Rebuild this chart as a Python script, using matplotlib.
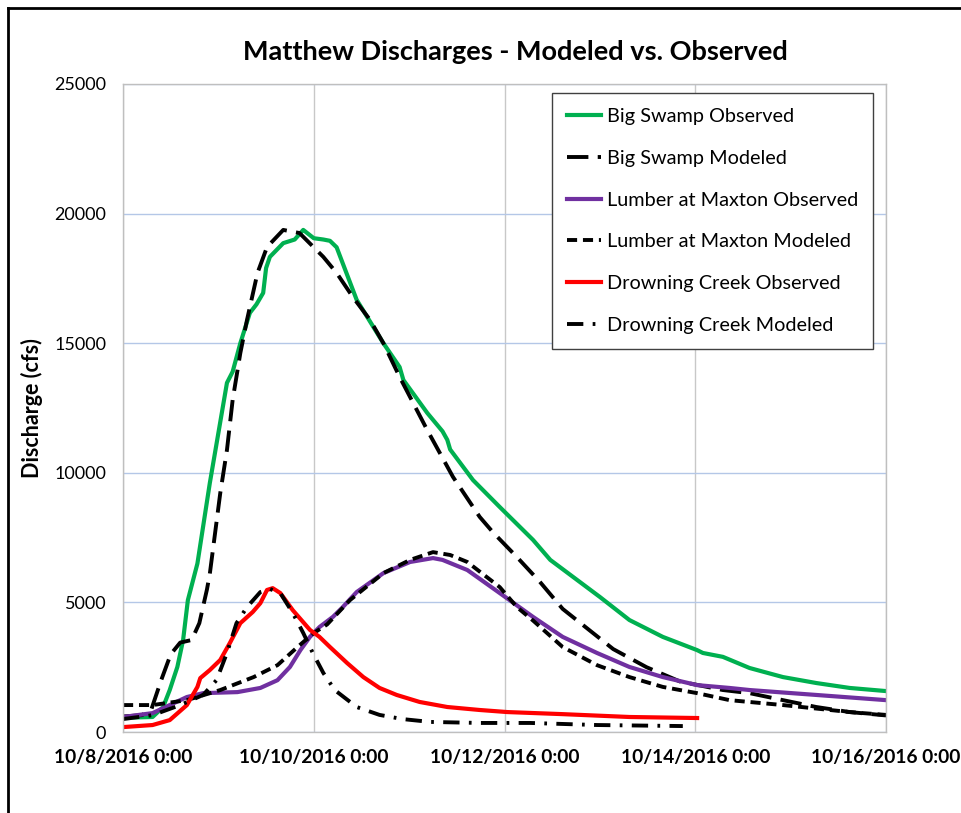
import numpy as np
import matplotlib
matplotlib.use('Agg')
import matplotlib.pyplot as plt
import matplotlib.dates as mdates
from matplotlib.lines import Line2D
from matplotlib.ticker import FuncFormatter

plt.rcParams['font.family'] = ['Lato', 'DejaVu Sans']

# days since 10/8/2016 0:00, discharge in cfs
bs_obs_day = [0.00, 0.31, 0.42, 0.49, 0.57, 0.63, 0.68, 0.78, 0.91, 1.09, 1.15, 1.23,
              1.33, 1.40, 1.47, 1.50, 1.54, 1.68, 1.80, 1.89, 2.00, 2.10, 2.17, 2.24,
              2.45, 2.73, 2.90, 2.94, 3.19, 3.35, 3.40, 3.43, 3.67, 3.95, 4.30, 4.48,
              5.00, 5.31, 5.66, 6.02, 6.08, 6.29, 6.57, 6.92, 7.27, 7.62, 8.00]
bs_obs_val = [550, 580, 960, 1620, 2510, 3550, 5090, 6500, 9600, 13470, 13900, 15000,
              16170, 16500, 16940, 17900, 18330, 18860, 19000, 19370, 19050, 19000, 18950, 18700,
              16670, 15000, 14080, 13580, 12310, 11600, 11270, 10900, 9720, 8680, 7410, 6640,
              5210, 4320, 3670, 3160, 3050, 2900, 2470, 2120, 1890, 1700, 1580]

bs_mod_day = [0.00, 0.20, 0.30, 0.40, 0.50, 0.60, 0.72, 0.80, 0.88, 0.91, 1.02, 1.09,
              1.15, 1.23, 1.30, 1.41, 1.51, 1.68, 1.85, 2.10, 2.24, 2.41, 2.59, 2.73,
              2.90, 3.19, 3.46, 3.74, 3.88, 4.13, 4.37, 4.61, 4.90, 5.14, 5.49, 5.84,
              6.29, 6.57, 6.92, 7.27, 7.62, 8.00]
bs_mod_val = [600, 650, 900, 2000, 3000, 3450, 3550, 4200, 5500, 6100, 9220, 10880,
              12810, 14620, 15900, 17710, 18710, 19370, 19250, 18330, 17710, 16780, 15900, 15000,
              13700, 11650, 9840, 8300, 7700, 6750, 5800, 4750, 3900, 3200, 2500, 1950,
              1620, 1500, 1230, 965, 770, 640]

lm_obs_day = [0.00, 0.31, 0.49, 0.67, 0.84, 1.20, 1.44, 1.62, 1.75, 1.86, 1.96, 2.06,
              2.20, 2.30, 2.45, 2.73, 3.01, 3.25, 3.35, 3.61, 3.95, 4.30, 4.61, 4.97,
              5.31, 5.66, 6.02, 6.36, 6.57, 7.27, 8.00]
lm_obs_val = [580, 730, 1040, 1350, 1500, 1540, 1700, 2000, 2510, 3160, 3670, 4050,
              4440, 4800, 5400, 6130, 6560, 6710, 6640, 6250, 5360, 4440, 3670, 3050,
              2510, 2120, 1810, 1700, 1620, 1430, 1230]

lm_mod_day = [0.00, 0.31, 0.67, 1.02, 1.37, 1.62, 1.83, 2.00, 2.14, 2.38, 2.73, 3.01,
              3.25, 3.43, 3.61, 3.95, 4.13, 4.30, 4.61, 4.97, 5.31, 5.66, 6.02, 6.36,
              6.92, 7.62, 8.00]
lm_mod_val = [1040, 1040, 1230, 1620, 2120, 2580, 3280, 3820, 4150, 5090, 6130, 6640,
              6940, 6830, 6560, 5590, 4820, 4300, 3280, 2580, 2120, 1740, 1500, 1230,
              1040, 770, 660]

dc_obs_day = [0.00, 0.31, 0.49, 0.67, 0.78, 0.81, 0.91, 1.02, 1.12, 1.23, 1.36, 1.44,
              1.51, 1.57, 1.65, 1.78, 1.96, 2.06, 2.17, 2.35, 2.52, 2.69, 2.87, 3.11,
              3.40, 3.74, 4.03, 4.61, 5.31, 6.02]
dc_obs_val = [190, 270, 460, 1040, 1740, 2080, 2390, 2780, 3430, 4200, 4630, 4970,
              5480, 5550, 5360, 4700, 3940, 3670, 3280, 2660, 2120, 1700, 1430, 1160,
              965, 850, 770, 690, 580, 540]

dc_mod_day = [0.00, 0.31, 0.60, 0.84, 0.98, 1.09, 1.19, 1.30, 1.44, 1.54, 1.65, 1.78,
              1.89, 1.99, 2.10, 2.22, 2.45, 2.69, 2.93, 3.22, 3.74, 4.27, 4.97, 5.87]
dc_mod_val = [500, 650, 1040, 1430, 2000, 3050, 4200, 4820, 5400, 5520, 5360, 4590,
              3820, 3050, 2280, 1620, 965, 660, 500, 390, 350, 350, 270, 230]

x_ticks_day = [0, 2, 4, 6, 8]
y_ticks = [0, 5000, 10000, 15000, 20000, 25000]

start = np.datetime64('2016-10-08T00:00')


def to_dates(days):
    return start + (np.array(days) * 24 * 60).astype('timedelta64[m]')


fig = plt.figure(figsize=(9.62, 8.13), dpi=100)
ax = fig.add_axes([0.1279, 0.0996, 0.7931, 0.7971])

ax.plot(to_dates(bs_obs_day), bs_obs_val, color='#00B050', lw=3, label='Big Swamp Observed')
ax.plot(to_dates(bs_mod_day), bs_mod_val, color='black', lw=2.8, dashes=(5.5, 2.4),
        label='Big Swamp Modeled')
ax.plot(to_dates(lm_obs_day), lm_obs_val, color='#7030A0', lw=3, label='Lumber at Maxton Observed')
ax.plot(to_dates(lm_mod_day), lm_mod_val, color='black', lw=2.8, dashes=(2.6, 1.5),
        label='Lumber at Maxton Modeled')
ax.plot(to_dates(dc_obs_day), dc_obs_val, color='#FF0000', lw=3, label='Drowning Creek Observed')
ax.plot(to_dates(dc_mod_day), dc_mod_val, color='black', lw=2.8, dashes=(4.2, 2.4, 0.7, 2.4),
        label='Drowning Creek Modeled')

ax.set_xlim(to_dates([0])[0], to_dates([8])[0])
ax.set_ylim(0, 25000)
ax.set_xticks(to_dates(x_ticks_day))
ax.set_yticks(y_ticks)


def fmt_date(x, pos):
    d = mdates.num2date(x)
    return f"{d.month}/{d.day}/{d.year} {d.hour}:{d.minute:02d}"


ax.xaxis.set_major_formatter(FuncFormatter(fmt_date))
ax.tick_params(axis='x', length=0, pad=12, labelsize=13.8)
ax.tick_params(axis='y', length=0, pad=12, labelsize=13)
for lab in ax.get_xticklabels():
    lab.set_fontweight('bold')

ax.grid(axis='y', color='#B4C7E7', lw=1)
ax.grid(axis='x', color='#C8C8C8', lw=1)
ax.set_axisbelow(True)
for s in ax.spines.values():
    s.set_color('#BFBFBF')
    s.set_linewidth(1)

ax.set_ylabel('Discharge (cfs)', fontsize=15.5, fontweight='bold', labelpad=8)
fig.text(0.536, 0.936, 'Matthew Discharges - Modeled vs. Observed', ha='center', va='center',
         fontsize=19.5, fontweight='bold')

leg = ax.legend(loc='upper right', bbox_to_anchor=(0.983, 0.986), borderaxespad=0,
                fontsize=14.3, handlelength=1.7, handletextpad=0.3, labelspacing=1.25,
                borderpad=0.75, fancybox=False, framealpha=1)
leg.get_frame().set_edgecolor('#404040')
leg.get_frame().set_linewidth(1)

# outer frame (top and left edges visible in the reference)
fig.add_artist(Line2D([0.008, 1.0], [0.990, 0.990], transform=fig.transFigure, color='black', lw=2))
fig.add_artist(Line2D([0.008, 0.008], [0.0, 0.990], transform=fig.transFigure, color='black', lw=2))

fig.savefig('out.png', dpi=100)
